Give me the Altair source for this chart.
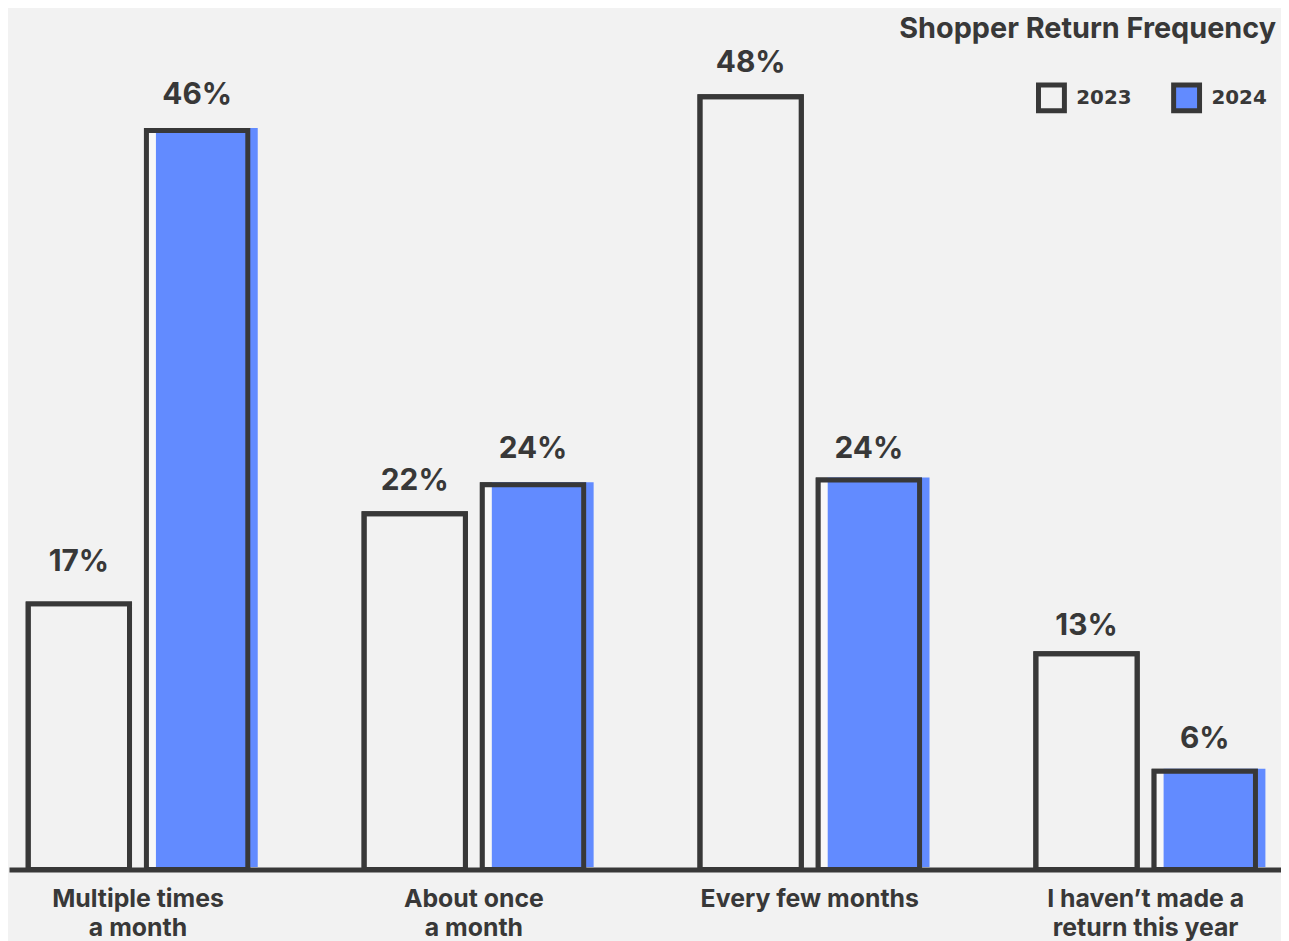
import altair as alt
import pandas as pd

# ---- data ----
categories = ["Multiple times\na month", "About once\na month", "Every few months",
              "I haven\u2019t made a\nreturn this year"]
years = ["2023", "2024"]
values_2023 = [16.5, 22.1, 48.0, 13.4]
values_2024 = [45.9, 23.9, 24.2, 6.1]
labels_2023 = [17, 22, 48, 13]
labels_2024 = [46, 24, 24, 6]

rows = []
for i, c in enumerate(categories):
    rows.append({"category": c, "year": "2023", "value": values_2023[i],
                 "label_num": labels_2023[i], "label": f"{labels_2023[i]}%"})
    rows.append({"category": c, "year": "2024", "value": values_2024[i],
                 "label_num": labels_2024[i], "label": f"{labels_2024[i]}%"})
df = pd.DataFrame(rows)

DARK = "#383838"
BG = "#f2f2f2"
BLUE = "#628bff"
FONT = "Inter"

xenc = alt.X("category:N", sort=categories,
             scale=alt.Scale(paddingInner=0.3462, paddingOuter=0.0666, align=0.429),
             axis=alt.Axis(title=None, labelAngle=0, ticks=False, tickSize=0, grid=False,
                           domainColor=DARK, domainWidth=5, labelPadding=17,
                           labelFont=FONT, labelFontSize=25, labelFontWeight=700,
                           labelColor=DARK, labelLineHeight=29, zindex=1, labelLimit=500,
                           labelExpr="split(datum.value, '\\n')"))


def xoff(rng=None):
    kw = dict(type="band", domain=years, paddingInner=0.143, paddingOuter=0)
    if rng is not None:
        kw["range"] = rng
    return alt.XOffset("year:N", sort=years, scale=alt.Scale(**kw))


yenc = alt.Y("value:Q", scale=alt.Scale(domain=[0, 50]), axis=None)

base = alt.Chart(df)

layer_a = base.mark_bar(stroke=DARK, strokeWidth=5).encode(
    x=xenc, xOffset=xoff(), y=yenc,
    color=alt.Color("year:N", sort=years,
                    scale=alt.Scale(domain=years, range=[BG, BLUE]),
                    legend=alt.Legend(title=None, orient="none", legendX=1033, legendY=17,
                                      direction="horizontal", symbolType="square",
                                      symbolSize=680, symbolStrokeColor=DARK,
                                      symbolStrokeWidth=5, labelFont="DejaVu Sans",
                                      labelFontSize=20, labelFontWeight="bold",
                                      labelColor=DARK, labelOffset=9, columnPadding=31,
                                      padding=0, symbolOpacity=1)),
)

layer_b = base.transform_filter(alt.datum.year == "2024").mark_bar(fill="#f8f8f8").encode(
    x=xenc, xOffset=xoff(), y=yenc)

layer_c = base.transform_filter(alt.datum.year == "2024").mark_bar(
    fill=BLUE, yOffset=-2.5).encode(x=xenc, xOffset=xoff([9, 231]), y=yenc)

layer_d = base.mark_bar(fillOpacity=0, stroke=DARK, strokeWidth=5).encode(
    x=xenc, xOffset=xoff(), y=yenc)

layer_e = base.mark_text(font=FONT, fontSize=30, fontWeight=700, color=DARK,
                         baseline="alphabetic", dy=-25).encode(
    x=xenc, xOffset=xoff(), y=alt.Y("label_num:Q"), text="label:N")

chart = alt.layer(layer_a, layer_b, layer_c, layer_d, layer_e).resolve_scale(
    xOffset="independent"
).properties(
    width=1280, height=810,
    title=alt.TitleParams("Shopper Return Frequency", anchor="end", frame="group",
                          font=FONT, fontSize=29, fontWeight=700, color=DARK,
                          baseline="alphabetic", offset=-19, dx=-5),
    autosize=alt.AutoSizeParams(type="none"),
    padding={"left": 1, "top": 54, "right": 0, "bottom": 69},
).configure(background=BG).configure_view(strokeWidth=0)

chart.save("out.html", embed_options={"renderer": "svg", "actions": False})
